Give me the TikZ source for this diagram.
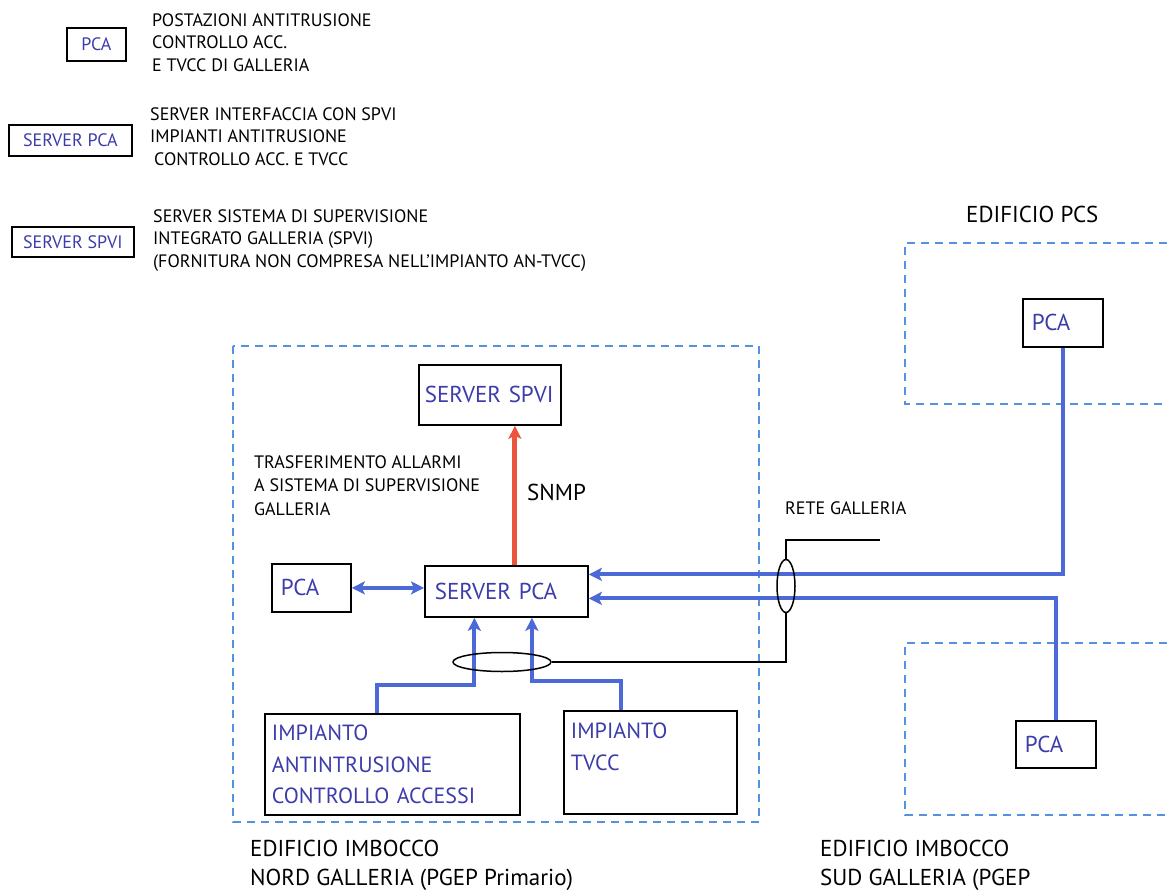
\documentclass[tikz,border=0pt]{standalone}
\usepackage{fontspec}
\setmainfont{PT Sans}
\usepackage{tikz}
\usetikzlibrary{arrows.meta,shapes.geometric}

\definecolor{pcablue}{RGB}{60,60,170}
\definecolor{busblue}{RGB}{75,105,215}
\definecolor{dashblue}{RGB}{85,145,225}
\definecolor{snmpred}{RGB}{235,85,60}

\newcommand{\legfont}{\fontsize{18}{22.5}\selectfont}
\newcommand{\bigfont}{\fontsize{23}{29}\selectfont}
\newcommand{\impfont}{\fontsize{22}{31.5}\selectfont}

\begin{document}
\begin{tikzpicture}[x=1pt, y=-1pt, >={Stealth[length=13pt,width=13pt,inset=3pt]},
    box/.style={draw=black, line width=1.8pt, text=pcablue, font=\bigfont, align=left,
        anchor=north west, inner xsep=9pt, inner ysep=0pt},
    lbox/.style={draw=black, line width=1.8pt, text=pcablue, font=\legfont,
        anchor=north west, inner sep=0pt},
    ltext/.style={font=\legfont, align=left, anchor=north west, inner sep=0pt},
    zone/.style={draw=dashblue, line width=1.6pt, dash pattern=on 8pt off 6pt},
    bus/.style={draw=busblue, line width=4pt},
    snmp/.style={draw=snmpred, line width=5pt},
    wire/.style={draw=black, line width=1.5pt},
    ring/.style={ellipse, draw=black, line width=1.5pt, inner sep=0pt}]
    \useasboundingbox (0,0) rectangle (1167,891);

    % 图例
    \node[lbox, minimum width=59pt, minimum height=33pt] (legpca) at (66,27) {PCA};
    \node[ltext] (legpcatxt) at (152,13) {POSTAZIONI ANTITRUSIONE\\CONTROLLO ACC.\\E TVCC DI GALLERIA};
    \node[lbox, minimum width=123pt, minimum height=31pt] (legspca) at (8,124) {SERVER PCA};
    \node[ltext] (legspcatxt) at (150,107) {SERVER INTERFACCIA CON SPVI\\IMPIANTI ANTITRUSIONE\\\hspace*{4pt}CONTROLLO ACC. E TVCC};
    \node[lbox, minimum width=122pt, minimum height=30pt] (legspvi) at (11,226) {SERVER SPVI};
    \node[ltext] (legspvitxt) at (153,209) {SERVER SISTEMA DI SUPERVISIONE\\INTEGRATO GALLERIA (SPVI)\\(FORNITURA NON COMPRESA NELL'IMPIANTO AN-TVCC)};

    % 区域虚线框
    \draw[zone] (233,346) rectangle (759,822);
    \draw[zone] (1167,243) -| (905,404) -- (1167,404);
    \draw[zone] (1167,643) -| (905,815) -- (1167,815);

    % 北口建筑内的设备
    \node[box, inner xsep=6pt, text width=130pt, minimum height=60pt] (spvi) at (418,364) {SERVER SPVI};
    \node[box, inner xsep=10pt, text width=143pt, minimum height=51pt] (spca) at (424,565) {SERVER PCA};
    \node[box, text width=61pt, minimum height=48pt] (pcal) at (271,563) {PCA};
    \node[box, font=\impfont, inner xsep=7pt, text width=241pt, minimum height=101pt] (ai) at (264,713)
        {IMPIANTO\\ANTINTRUSIONE\\CONTROLLO ACCESSI};
    \node[box, font=\impfont, inner xsep=7pt, text width=159pt, minimum height=103pt] (tvcc) at (563,710)
        {IMPIANTO\\TVCC\\\mbox{}};

    % 右侧的 PCA
    \node[box, text width=62pt, minimum height=48pt] (pcan) at (1022,298) {PCA};
    \node[box, text width=62pt, minimum height=47pt] (pcas) at (1015,720) {PCA};

    % 文字说明
    \node[ltext, font=\fontsize{18}{23.5}\selectfont] (transf) at (254,455)
        {TRASFERIMENTO ALLARMI\\A SISTEMA DI SUPERVISIONE\\GALLERIA};
    \node[font=\bigfont, anchor=west, inner sep=0pt] (snmptxt) at (527,492) {SNMP};
    \node[font=\legfont, anchor=west, inner sep=0pt] (retetxt) at (785,508) {RETE GALLERIA};
    \node[font=\bigfont, anchor=west, inner sep=0pt] (edpcs) at (966,214) {EDIFICIO PCS};
    \node[ltext, font=\bigfont] (ednord) at (250,840) {EDIFICIO IMBOCCO\\NORD GALLERIA (PGEP Primario)};
    \node[ltext, font=\bigfont] (edsud) at (820,840) {EDIFICIO IMBOCCO\\SUD GALLERIA (PGEP};

    % 连线
    \draw[snmp,->] ([xshift=8.5pt]spca.north) coordinate (s0) -- (s0 |- spvi.south);
    \draw[bus,<->] (pcal.east) -- (pcal.east -| spca.west);
    \draw[bus,->] (pcan.south) |- ([yshift=17pt]spca.east);
    \draw[bus,->] (pcas.north) |- ([yshift=-7pt]spca.east);
    \draw[bus,->] ([xshift=-15.5pt]ai.north) -- ++(0,-28) -| ([xshift=-32pt]spca.south);
    \draw[bus,->] ([xshift=-29.5pt]tvcc.north) -- ++(0,-29) -| ([xshift=25.5pt]spca.south);

    % 网络束
    \node[ring, minimum width=18pt, minimum height=53pt] (ringr) at (786,586) {};
    \node[ring, minimum width=98pt, minimum height=19pt] (ringb) at (502,662) {};
    \coordinate (rete) at (880,540);
    \draw[wire] (ringr.north) |- (rete);
    \draw[wire] (ringr.south) |- (ringb.east);
\end{tikzpicture}
\end{document}
